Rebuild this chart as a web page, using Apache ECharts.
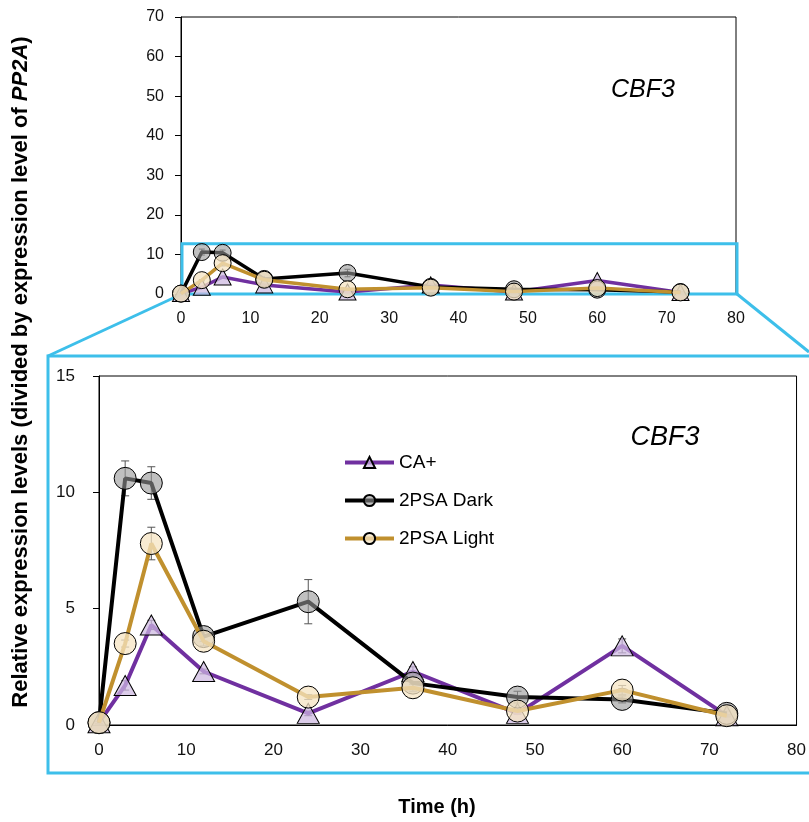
<!DOCTYPE html>
<html>
<head>
<meta charset="utf-8">
<script src="https://cdn.jsdelivr.net/npm/echarts@6/dist/echarts.min.js"></script>
<style>html,body{margin:0;padding:0;background:#fff}#c{width:809px;height:822px}</style>
</head>
<body>
<div id="c"></div>
<script>
// ---- data ----
const times = [0, 3, 6, 12, 24, 36, 48, 60, 72];
const caPlus = [0.1, 1.7, 4.3, 2.3, 0.5, 2.3, 0.5, 3.4, 0.4];
const caPlusErr = [0.05, 0.2, 0.2, 0.1, 0.1, 0.2, 0.05, 0.3, 0.05];
const psaDark = [0.1, 10.6, 10.4, 3.8, 5.3, 1.8, 1.2, 1.1, 0.5];
const psaDarkErr = [0.05, 0.75, 0.7, 0.2, 0.95, 0.2, 0.25, 0.15, 0.1];
const psaLight = [0.1, 3.5, 7.8, 3.6, 1.2, 1.6, 0.6, 1.5, 0.4];
const psaLightErr = [0.05, 0.15, 0.7, 0.2, 0.1, 0.15, 0.1, 0.2, 0.05];
const seriesNames = ['CA+', '2PSA Dark', '2PSA Light'];
const xTicks = [0, 10, 20, 30, 40, 50, 60, 70, 80];
const topYTicks = [0, 10, 20, 30, 40, 50, 60, 70];
const bottomYTicks = [0, 5, 10, 15];
const zoomTop = 12.7;

const FONT = 'Liberation Sans, Arial, sans-serif';
const BLUE = '#3DBFEA';
const colors = ['#7030A0', '#000000', '#C0902E'];
const fills = ['rgba(205,185,225,0.72)', 'rgba(150,150,150,0.6)', 'rgba(245,228,195,0.75)'];
const symbols = ['triangle', 'circle', 'circle'];
const values = [caPlus, psaDark, psaLight];
const errs = [caPlusErr, psaDarkErr, psaLightErr];

const chart = echarts.init(document.getElementById('c'), null, {renderer: 'canvas'});

function pairs(v) { return times.map((t, i) => [t, v[i]]); }
function errData(v, e) { return times.map((t, i) => [t, v[i] - e[i], v[i] + e[i]]); }

function errRender(cap) {
  return function (params, api) {
    const x = api.value(0), lo = api.value(1), hi = api.value(2);
    const a = api.coord([x, lo]), b = api.coord([x, hi]);
    const st = {stroke: '#555', lineWidth: 1};
    return {type: 'group', children: [
      {type: 'line', shape: {x1: a[0], y1: a[1], x2: b[0], y2: b[1]}, style: st},
      {type: 'line', shape: {x1: a[0] - cap, y1: a[1], x2: a[0] + cap, y2: a[1]}, style: st},
      {type: 'line', shape: {x1: b[0] - cap, y1: b[1], x2: b[0] + cap, y2: b[1]}, style: st}
    ]};
  };
}

const series = [];
// bottom (zoomed) panel first so legend uses its style
[1, 0].forEach(gi => {
  const big = gi === 1;
  values.forEach((v, k) => {
    series.push({
      type: 'custom', xAxisIndex: gi, yAxisIndex: gi, z: 1, silent: true,
      renderItem: errRender(big ? 4 : 3), data: errData(v, errs[k]),
      clip: false
    });
  });
  values.forEach((v, k) => {
    const tri = symbols[k] === 'triangle';
    series.push({
      name: seriesNames[k], type: 'line', xAxisIndex: gi, yAxisIndex: gi, z: 2 + k,
      data: pairs(v), symbol: symbols[k],
      symbolSize: big ? (tri ? [22, 20] : 22) : (tri ? [17, 16] : 17),
      showAllSymbol: true, clip: false,
      lineStyle: {color: colors[k], width: big ? 4 : 3.5},
      itemStyle: {color: fills[k], borderColor: '#000', borderWidth: 1, opacity: 1},
      emphasis: {disabled: true}
    });
  });
});

const axisLab = (size, margin) => ({color: '#111', fontFamily: FONT, fontSize: size, margin: margin});

const option = {
  animation: false,
  backgroundColor: '#fff',
  grid: [
    {left: 181, top: 17, width: 555, height: 277, show: true, borderColor: '#000', borderWidth: 1, containLabel: false},
    {left: 99, top: 376, width: 700, height: 349, show: true, borderColor: '#000', borderWidth: 1, containLabel: false}
  ],
  xAxis: [0, 1].map(gi => ({
    type: 'value', gridIndex: gi, min: xTicks[0], max: xTicks[xTicks.length - 1],
    interval: xTicks[1] - xTicks[0],
    axisLine: {show: true, onZero: false, lineStyle: {color: '#000', width: 1}},
    axisTick: {show: false}, splitLine: {show: false},
    axisLabel: axisLab(gi ? 17 : 16, 17)
  })),
  yAxis: [
    {type: 'value', gridIndex: 0, min: topYTicks[0], max: topYTicks[topYTicks.length - 1], interval: topYTicks[1] - topYTicks[0],
      axisLine: {show: true, lineStyle: {color: '#000', width: 1}},
      axisTick: {show: true, inside: false, length: 6, lineStyle: {color: '#000'}},
      splitLine: {show: false}, axisLabel: axisLab(16, 17)},
    {type: 'value', gridIndex: 1, min: bottomYTicks[0], max: bottomYTicks[bottomYTicks.length - 1], interval: bottomYTicks[1] - bottomYTicks[0],
      axisLine: {show: true, lineStyle: {color: '#000', width: 1}},
      axisTick: {show: true, inside: false, length: 6, lineStyle: {color: '#000'}},
      splitLine: {show: false}, axisLabel: axisLab(17, 24)}
  ],
  legend: {
    data: seriesNames, orient: 'vertical', left: 338, top: 448,
    itemWidth: 49, itemHeight: 14, itemGap: 19,
    lineStyle: {width: 4},
    textStyle: {fontFamily: FONT, fontSize: 19, color: '#000', padding: [0, 0, 0, 0]},
    selectedMode: false
  },
  series: series
};
chart.setOption(option);

// zoom box decorations, positioned from the top panel's scales
const p0 = chart.convertToPixel({gridIndex: 0}, [xTicks[0], 0]);
const p1 = chart.convertToPixel({gridIndex: 0}, [xTicks[xTicks.length - 1], zoomTop]);
const bigTop = 356, bigBottom = 773, bigLeft = 48;
const blueStyle = {stroke: BLUE, lineWidth: 3, fill: null};
chart.setOption({
  graphic: [
    {type: 'rect', z: 1, shape: {x: p0[0] + 1, y: p1[1], width: p1[0] - p0[0], height: p0[1] - p1[1]}, style: blueStyle, silent: true},
    {type: 'line', z: 1, shape: {x1: p0[0] + 1, y1: p0[1], x2: bigLeft, y2: bigTop}, style: blueStyle, silent: true},
    {type: 'line', z: 1, shape: {x1: p1[0] + 1, y1: p0[1], x2: 809, y2: 352}, style: blueStyle, silent: true},
    {type: 'polyline', z: 1, shape: {points: [[812, bigTop], [bigLeft, bigTop], [bigLeft, bigBottom], [812, bigBottom]]}, style: blueStyle, silent: true},
    {type: 'text', x: 643, y: 90, silent: true,
      style: {text: 'CBF3', fontFamily: FONT, fontStyle: 'italic', fontSize: 25, fill: '#000', align: 'center', verticalAlign: 'middle'}},
    {type: 'text', x: 665, y: 437, silent: true,
      style: {text: 'CBF3', fontFamily: FONT, fontStyle: 'italic', fontSize: 27, fill: '#000', align: 'center', verticalAlign: 'middle'}},
    {type: 'text', x: 437, y: 807, silent: true,
      style: {text: 'Time (h)', fontFamily: FONT, fontWeight: 'bold', fontSize: 20, fill: '#000', align: 'center', verticalAlign: 'middle'}},
    {type: 'text', x: 21, y: 372, rotation: Math.PI / 2, silent: true,
      style: {
        text: '{n|Relative expression levels (divided by expression level of }{i|PP2A}{n|)}',
        align: 'center', verticalAlign: 'middle',
        rich: {
          n: {fontFamily: FONT, fontWeight: 'bold', fontSize: 22, fill: '#000', color: '#000'},
          i: {fontFamily: FONT, fontWeight: 'bold', fontStyle: 'italic', fontSize: 22, fill: '#000', color: '#000'}
        }
      }}
  ]
});
</script>
</body>
</html>
